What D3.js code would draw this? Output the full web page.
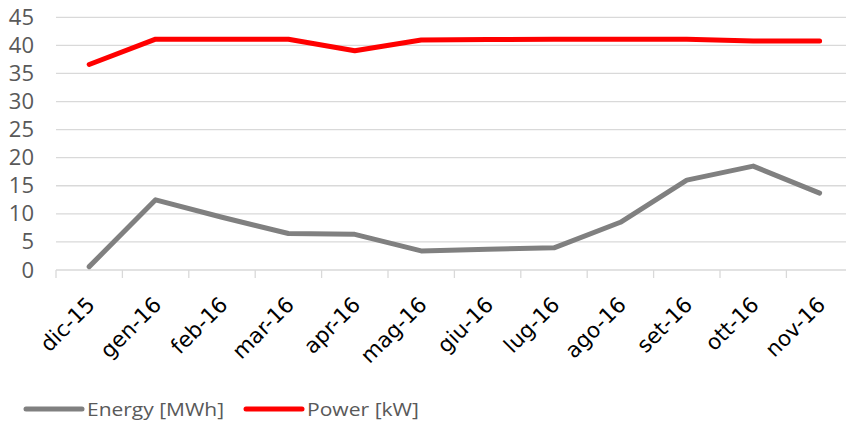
<!DOCTYPE html>
<html>
<head>
<meta charset="utf-8">
<script src="https://cdn.jsdelivr.net/npm/d3@7"></script>
<style>
  body { margin: 0; background: #fff; }
  svg { display: block; }
</style>
</head>
<body>
<div id="chart"></div>
<script>
var months = ["dic-15", "gen-16", "feb-16", "mar-16", "apr-16", "mag-16",
              "giu-16", "lug-16", "ago-16", "set-16", "ott-16", "nov-16"];
var energy = [0.6, 12.5, 9.4, 6.5, 6.35, 3.4, 3.7, 3.95, 8.5, 16.0, 18.5, 13.7];
var power = [36.6, 41.1, 41.1, 41.1, 39.05, 40.95, 41.05, 41.1, 41.1, 41.1, 40.8, 40.8];
var yTicks = [0, 5, 10, 15, 20, 25, 30, 35, 40, 45];

var svgWidth = 846;
var svgHeight = 421;

var margin = { top: 17, left: 56, bottom: 270 };

var svg = d3.select("#chart")
  .append("svg")
    .attr("width", svgWidth)
    .attr("height", svgHeight);

// band scale for the months; the last band runs a bit past the right edge
var xScale = d3.scaleBand()
  .domain(months)
  .range([margin.left, margin.left + 12 * 66.4]);

var yScale = d3.scaleLinear()
  .domain([0, 45])
  .range([margin.bottom, 17.3]);

var xc = function(d) { return xScale(d) + xScale.bandwidth() / 2; };

// gridlines
svg.append("g")
  .selectAll("line")
  .data(yTicks)
  .enter()
  .append("line")
    .attr("x1", margin.left)
    .attr("x2", svgWidth)
    .attr("y1", d => yScale(d))
    .attr("y2", d => yScale(d))
    .attr("stroke", "#d9d9d9")
    .attr("stroke-width", 1.3);

// y axis labels
var leftAxis = d3.axisLeft(yScale).tickValues(yTicks).tickSize(0).tickPadding(0);
var yAxis = svg.append("g")
  .attr("transform", "translate(34,0)")
  .call(leftAxis);
yAxis.select(".domain").remove();
yAxis.selectAll("text")
  .attr("font-family", "'Open Sans', sans-serif")
  .attr("font-size", "22px")
  .attr("fill", "#595959");

// x axis ticks
svg.append("g")
  .selectAll("line")
  .data(months)
  .enter()
  .append("line")
    .attr("x1", d => xScale(d))
    .attr("x2", d => xScale(d))
    .attr("y1", margin.bottom)
    .attr("y2", margin.bottom + 8)
    .attr("stroke", "#d9d9d9")
    .attr("stroke-width", 1.3);

// rotated month labels
svg.append("g")
  .selectAll("text")
  .data(months)
  .enter()
  .append("text")
    .attr("transform", d => `translate(${xc(d) + 7}, 306) rotate(-45)`)
    .attr("text-anchor", "end")
    .attr("font-family", "'DejaVu Sans', Verdana, sans-serif")
    .attr("font-size", "21.5px")
    .attr("fill", "#000")
    .text(d => d);

// lines
var lineGen = d3.line()
  .x((d, i) => xc(months[i]))
  .y(d => yScale(d));

svg.append("path")
  .datum(energy)
  .attr("d", lineGen)
  .attr("fill", "none")
  .attr("stroke", "#808080")
  .attr("stroke-width", 5)
  .attr("stroke-linecap", "round")
  .attr("stroke-linejoin", "round");

svg.append("path")
  .datum(power)
  .attr("d", lineGen)
  .attr("fill", "none")
  .attr("stroke", "#ff0000")
  .attr("stroke-width", 5)
  .attr("stroke-linecap", "round")
  .attr("stroke-linejoin", "round");

// legend
var legendItems = [
  { name: "Energy [MWh]", color: "#808080", x: 26, w: 137 },
  { name: "Power [kW]", color: "#ff0000", x: 246, w: 112 }
];

var legend = svg.append("g")
  .selectAll("g")
  .data(legendItems)
  .enter()
  .append("g")
    .attr("transform", d => `translate(${d.x}, 409)`);

legend.append("line")
  .attr("x1", 0)
  .attr("x2", 56)
  .attr("stroke", d => d.color)
  .attr("stroke-width", 5)
  .attr("stroke-linecap", "round");

legend.append("text")
  .attr("x", 61)
  .attr("dy", "0.35em")
  .attr("font-family", "'Open Sans', sans-serif")
  .attr("font-size", "19px")
  .attr("textLength", d => d.w)
  .attr("lengthAdjust", "spacingAndGlyphs")
  .attr("fill", "#595959")
  .text(d => d.name);
</script>
</body>
</html>
